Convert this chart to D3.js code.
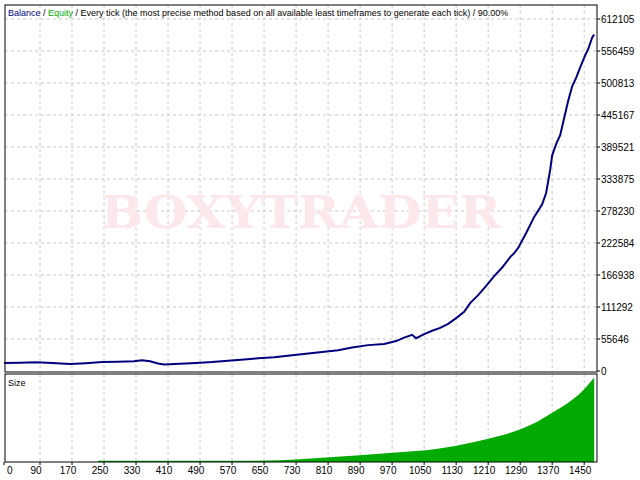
<!DOCTYPE html><html><head><script src="https://cdn.jsdelivr.net/npm/d3@7"></script>
<style>body{margin:0;background:#fff}text{font-family:"Liberation Sans",Arial,sans-serif;font-size:10px}</style></head><body>
<svg id="c" width="640" height="480"></svg>
<script>
const trades=[0,40,80,120,165,205,245,285,325,345,365,385,400,440,480,520,560,600,635,675,715,755,795,835,870,910,950,980,1000,1020,1030,1050,1070,1090,1110,1130,1150,1165,1185,1205,1225,1245,1265,1275,1285,1305,1325,1345,1355,1365,1370,1380,1390,1400,1410,1420,1430,1440,1450,1460,1470,1475];
const balance=[14000,14500,15000,14000,12000,13500,15500,16000,17000,18500,17000,13000,11500,12500,14000,15500,18000,20000,22000,24000,27000,30000,33000,36000,41000,45000,47000,52000,58000,63000,57000,64000,70000,75000,82000,92000,103000,118000,132000,148000,165000,180000,198000,205000,214000,240000,268000,290000,310000,350000,375000,395000,410000,440000,470000,495000,510000,528000,545000,560000,580000,585000];
const sizeTrades=[235,250,325,365,560,690,715,785,880,980,1080,1175,1225,1275,1325,1370,1420,1450,1475];
const sizeVals=[1,1,1,1,1,1.5,2,3.5,5.5,8,11,17,21,26,33,42,53,62,72];
const yTicks=[0,55646,111292,166938,222584,278230,333875,389521,445167,500813,556459,612105];
const xTicks=[0,90,170,250,330,410,490,570,650,730,810,890,970,1050,1130,1210,1290,1370,1450];
const titleParts=[["Balance","#00007f"],[" / ","#000"],["Equity","#00aa00"],[" / Every tick (the most precise method based on all available least timeframes to generate each tick) / 90.00%","#000"]];
const svg=d3.select("#c");
const L=5,R=597,T=5,B=372,T2=374,B2=462;
const x=d3.scaleLinear().domain([0,1482]).range([4,597]);
const y=d3.scaleLinear().domain([0,612105]).range([371,19]);
const y2=d3.scaleLinear().domain([0,75]).range([B2,T2]);
const g=svg.append("g").attr("stroke","#c8c8c8").attr("stroke-dasharray","3,3");
xTicks.slice(1).forEach(t=>{g.append("line").attr("x1",x(t)).attr("x2",x(t)).attr("y1",T).attr("y2",B);g.append("line").attr("x1",x(t)).attr("x2",x(t)).attr("y1",T2).attr("y2",B2);});
yTicks.slice(1).forEach(v=>g.append("line").attr("x1",L).attr("x2",R).attr("y1",y(v)).attr("y2",y(v)));
svg.append("text").attr("x",(L+R)/2).attr("y",228).attr("text-anchor","middle").attr("fill","#fce8ea")
 .attr("textLength",400).attr("lengthAdjust","spacingAndGlyphs")
 .style("font-family","'DejaVu Serif',serif").style("font-size","44px").style("font-weight","bold").text("BOXYTRADER");
svg.append("path").datum(sizeTrades.map((t,i)=>[t,sizeVals[i]])).attr("fill","#00aa00")
 .attr("d",d3.area().x(d=>x(d[0])).y0(B2).y1(d=>y2(d[1])).curve(d3.curveMonotoneX));
svg.append("path").datum(trades.map((t,i)=>[t,balance[i]])).attr("fill","none").attr("stroke","#00007f").attr("stroke-width",2)
 .attr("d",d3.line().x(d=>x(d[0])).y(d=>y(d[1])));
[[T,B],[T2,B2]].forEach(([a,b])=>svg.append("rect").attr("x",L).attr("y",a).attr("width",R-L).attr("height",b-a).attr("fill","none").attr("stroke","#000"));
yTicks.forEach(v=>{svg.append("line").attr("x1",R).attr("x2",R+3).attr("y1",y(v)).attr("y2",y(v)).attr("stroke","#000");
 svg.append("text").attr("x",601).attr("y",y(v)+4).text(v);});
xTicks.forEach(t=>{svg.append("line").attr("x1",x(t)).attr("x2",x(t)).attr("y1",B2).attr("y2",B2+3).attr("stroke","#000");
 svg.append("text").attr("x",Math.max(x(t)-4,7)).attr("y",474).attr("text-anchor",t?"middle":"start").text(t);});
let cx=8;
titleParts.forEach(([s,c])=>{const n=svg.append("text").attr("x",cx).attr("y",16).attr("fill",c).style("font-size","9px").style("white-space","pre").attr("xml:space","preserve").text(s);cx+=n.node().getComputedTextLength();});
svg.append("text").attr("x",8).attr("y",386).style("font-size","9px").text("Size");
</script></body></html>
